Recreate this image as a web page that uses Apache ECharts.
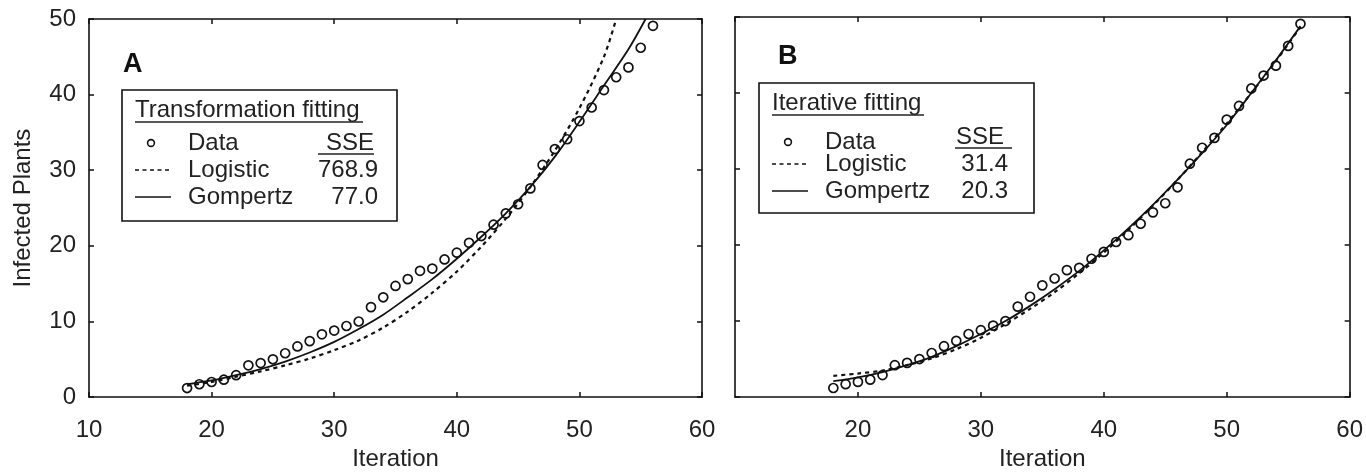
<!DOCTYPE html>
<html>
<head>
<meta charset="utf-8">
<script src="https://cdn.jsdelivr.net/npm/echarts@6/dist/echarts.min.js"></script>
<style>
  html, body { margin: 0; padding: 0; background: #fff; }
  #main { width: 1366px; height: 476px; }
</style>
</head>
<body>
<div id="main"></div>
<script>
// observed data (same in both panels)
var iteration = [18, 19, 20, 21, 22, 23, 24, 25, 26, 27, 28, 29, 30, 31, 32, 33, 34, 35, 36, 37,
    38, 39, 40, 41, 42, 43, 44, 45, 46, 47, 48, 49, 50, 51, 52, 53, 54, 55, 56];
var infected = [1.2, 1.7, 2.0, 2.3, 2.9, 4.2, 4.5, 5.0, 5.8, 6.7, 7.4, 8.3, 8.8, 9.4, 10.0, 11.9, 13.2, 14.7, 15.6, 16.7,
    17.0, 18.2, 19.1, 20.4, 21.3, 22.8, 24.3, 25.5, 27.6, 30.7, 32.8, 34.1, 36.5, 38.3, 40.6, 42.3, 43.6, 46.2, 49.1];

// panel A : transformation fitting
var logisticAX = [18, 20, 22, 24, 26, 28, 30, 32, 34, 36, 38, 40, 42, 44, 46, 48, 50, 52, 53];
var logisticAY = [1.5, 2.0, 2.7, 3.4, 4.2, 5.1, 6.2, 7.5, 9.2, 11.3, 13.8, 16.6, 19.9, 23.6, 27.8, 32.6, 38.2, 45.0, 50.0];
var gompertzAX = [18, 20, 22, 24, 26, 28, 30, 32, 34, 36, 38, 40, 42, 44, 46, 48, 50, 52, 54, 55.4];
var gompertzAY = [1.7, 2.2, 2.9, 3.7, 4.7, 5.9, 7.3, 9.0, 10.9, 13.2, 15.6, 18.3, 21.2, 24.3, 27.8, 31.8, 36.4, 41.2, 46.0, 50.0];

// panel B : iterative fitting
var fitBX = [18, 20, 22, 24, 26, 28, 30, 32, 34, 36, 38, 40, 42, 44, 46, 48, 50, 52, 54, 56];
var logisticBY = [2.8, 3.1, 3.5, 4.2, 5.1, 6.3, 7.8, 9.6, 11.6, 13.8, 16.3, 19.0, 22.0, 25.2, 28.6, 32.2, 36.0, 40.0, 44.2, 48.7];
var gompertzBY = [2.1, 2.6, 3.3, 4.2, 5.3, 6.7, 8.3, 10.0, 12.0, 14.2, 16.6, 19.3, 22.2, 25.3, 28.6, 32.1, 35.8, 40.0, 44.3, 48.8];

var xTicks = [10, 20, 30, 40, 50, 60];
var yTicks = [0, 10, 20, 30, 40, 50];

function pairs(xs, ys) {
    return xs.map(function (x, i) { return [x, ys[i]]; });
}

var FONT = '"Liberation Sans", Arial, Helvetica, sans-serif';
var INK = '#111';

function xAxisOf(grid, pos, labels, name) {
    return {
        type: 'value', gridIndex: grid, position: pos,
        min: xTicks[0], max: xTicks[xTicks.length - 1], interval: 10,
        name: name, nameLocation: 'middle', nameGap: 44,
        nameTextStyle: { fontFamily: FONT, fontSize: 24, color: '#222' },
        axisLine: { show: true, onZero: false, lineStyle: { color: INK, width: 1.6 } },
        axisTick: { show: true, inside: true, length: 5, lineStyle: { color: INK, width: 1.5 } },
        axisLabel: { show: labels, margin: 21, fontFamily: FONT, fontSize: 24, color: '#222',
            showMinLabel: grid === 0 },
        splitLine: { show: false }
    };
}

function yAxisOf(grid, pos, labels, name) {
    return {
        type: 'value', gridIndex: grid, position: pos,
        min: yTicks[0], max: yTicks[yTicks.length - 1], interval: 10,
        name: name, nameLocation: 'middle', nameGap: 54, nameRotate: 90,
        nameTextStyle: { fontFamily: FONT, fontSize: 24, color: '#222' },
        axisLine: { show: true, onZero: false, lineStyle: { color: INK, width: 1.6 } },
        axisTick: { show: true, inside: true, length: 5, lineStyle: { color: INK, width: 1.5 } },
        axisLabel: { show: labels, margin: 13, fontFamily: FONT, fontSize: 24, color: '#222' },
        splitLine: { show: false }
    };
}

function dataSeries(xi, yi) {
    return {
        type: 'scatter', xAxisIndex: xi, yAxisIndex: yi,
        data: pairs(iteration, infected),
        symbol: 'circle', symbolSize: 9,
        itemStyle: { color: 'rgba(255,255,255,0)', borderColor: INK, borderWidth: 1.7, opacity: 1 },
        z: 3
    };
}

function fitSeries(xi, yi, xs, ys, dashed) {
    return {
        type: 'line', xAxisIndex: xi, yAxisIndex: yi,
        data: pairs(xs, ys), smooth: 0.3, showSymbol: false, clip: true,
        lineStyle: { color: INK, width: dashed ? 2.2 : 1.8, type: dashed ? [4, 4] : 'solid' },
        z: 2
    };
}

// legend boxes, panel letters (annotation only)
function legendBox(x0, y0, w, h, title, titleW, rows, sse, sseRight, sseY, sseLine) {
    var g = [];
    g.push({ type: 'rect', shape: { x: x0, y: y0, width: w, height: h },
        style: { fill: '#fff', stroke: INK, lineWidth: 1.6 }, z: 10 });
    g.push({ type: 'text', z: 11, style: { text: title, x: x0 + 13, y: rows.titleY, font: '24px ' + FONT,
        fill: '#222', textVerticalAlign: 'middle' } });
    g.push({ type: 'line', z: 11, shape: { x1: x0 + 13, y1: rows.titleY + 12, x2: x0 + 13 + titleW, y2: rows.titleY + 12 },
        style: { stroke: '#222', lineWidth: 1.5 } });
    var labels = ['Data', 'Logistic', 'Gompertz'];
    var vals = ['SSE', sse[0], sse[1]];
    for (var i = 0; i < 3; i++) {
        var y = rows.ys[i];
        g.push({ type: 'text', z: 11, style: { text: labels[i], x: x0 + 66, y: y, font: '24px ' + FONT,
            fill: '#222', textVerticalAlign: 'middle' } });
        g.push({ type: 'text', z: 11, style: { text: vals[i], x: sseRight - (i === 0 ? 4 : 0), y: i === 0 ? sseY : y,
            font: '24px ' + FONT, fill: '#222', textAlign: 'right', textVerticalAlign: 'middle' } });
    }
    g.push({ type: 'line', z: 11, shape: { x1: sseLine[0], y1: sseY + 11, x2: sseLine[1], y2: sseY + 11 },
        style: { stroke: '#222', lineWidth: 1.5 } });
    g.push({ type: 'circle', z: 11, shape: { cx: x0 + 29, cy: rows.ys[0], r: 3.4 },
        style: { fill: '#fff', stroke: INK, lineWidth: 1.6 } });
    g.push({ type: 'line', z: 11, shape: { x1: x0 + 13, y1: rows.ys[1], x2: x0 + 50, y2: rows.ys[1] },
        style: { stroke: INK, lineWidth: 1.5, lineDash: [4, 3.5] } });
    g.push({ type: 'line', z: 11, shape: { x1: x0 + 13, y1: rows.ys[2], x2: x0 + 49, y2: rows.ys[2] },
        style: { stroke: INK, lineWidth: 1.5 } });
    return g;
}

var graphics = []
    .concat(legendBox(122, 90, 275, 131, 'Transformation fitting', 228,
        { titleY: 110, ys: [143, 170, 197] }, ['768.9', '77.0'], 378, 143, [318, 374]))
    .concat(legendBox(759, 83, 275, 130, 'Iterative fitting', 152,
        { titleY: 103, ys: [142, 164, 191] }, ['31.4', '20.3'], 1008, 137, [955, 1012]));
graphics.push({ type: 'text', z: 11, style: { text: 'A', x: 123, y: 65, font: 'bold 27px ' + FONT,
    fill: '#111', textVerticalAlign: 'middle' } });
graphics.push({ type: 'text', z: 11, style: { text: 'B', x: 778, y: 57, font: 'bold 27px ' + FONT,
    fill: '#111', textVerticalAlign: 'middle' } });

var chart = echarts.init(document.getElementById('main'), null, { renderer: 'canvas' });
var option = {
    backgroundColor: '#fff',
    animation: false,
    grid: [
        { left: 89, top: 19, width: 613, height: 383 },
        { left: 735, top: 17, width: 616, height: 381 }
    ],
    xAxis: [
        xAxisOf(0, 'bottom', true, 'Iteration'),
        xAxisOf(0, 'top', false, ''),
        xAxisOf(1, 'bottom', true, 'Iteration'),
        xAxisOf(1, 'top', false, '')
    ],
    yAxis: [
        yAxisOf(0, 'left', true, 'Infected Plants'),
        yAxisOf(0, 'right', false, ''),
        yAxisOf(1, 'left', false, ''),
        yAxisOf(1, 'right', false, '')
    ],
    series: [
        fitSeries(0, 0, logisticAX, logisticAY, true),
        fitSeries(0, 0, gompertzAX, gompertzAY, false),
        dataSeries(0, 0),
        fitSeries(2, 2, fitBX, logisticBY, true),
        fitSeries(2, 2, fitBX, gompertzBY, false),
        dataSeries(2, 2)
    ],
    graphic: graphics
};
chart.setOption(option);
</script>
</body>
</html>
